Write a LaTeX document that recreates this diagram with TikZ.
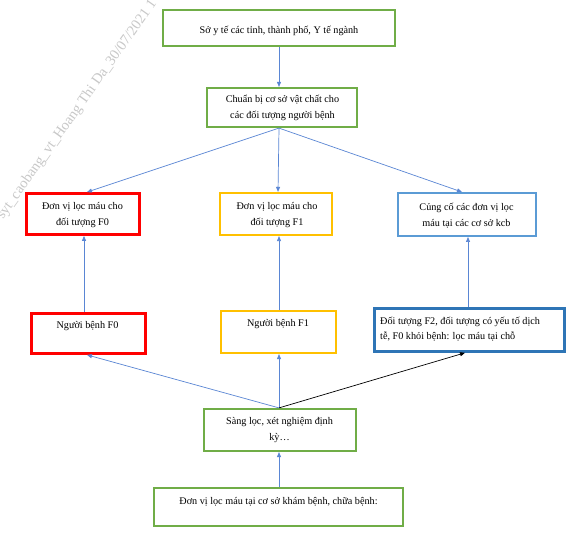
\documentclass[tikz,border=0pt]{standalone}
\usepackage{fontspec}
\setmainfont{Liberation Serif}
\usetikzlibrary{arrows.meta,calc}
\definecolor{cgreen}{HTML}{70AD47}
\definecolor{cred}{HTML}{FF0000}
\definecolor{corange}{HTML}{FFC000}
\definecolor{clblue}{HTML}{5B9BD5}
\definecolor{cdblue}{HTML}{2E75B6}
\definecolor{carrow}{HTML}{5A86D4}
\definecolor{cwm}{HTML}{C8C8C8}
\begin{document}
\begin{tikzpicture}[x=1pt,y=-1pt,
  box/.style={draw, inner sep=0pt, line width=2.2pt},
  txt/.style={inner sep=0pt, align=center, font=\fontsize{10.2}{16}\selectfont},
  arr/.style={draw=carrow, line width=0.7pt, -{Triangle[length=5pt,width=4pt]}},
  blk/.style={draw=black, line width=0.7pt, -{Triangle[length=5pt,width=4pt]}}]
\useasboundingbox (0,0) rectangle (575,545);
\fill[white] (0,0) rectangle (575,545);
% watermark
\begin{scope}
\clip (0,0) rectangle (575,545);
\node[rotate=54.6, anchor=base west, inner sep=0pt, text=cwm, font=\fontsize{14.5}{14.5}\selectfont] (wm) at (3,220) {syt\_caobang\_vt\_Hoang Thi Da\_30/07/2021 1};
\end{scope}
% boxes
\node[box, draw=cgreen, minimum width=232, minimum height=36] (top) at (279,28) {};
\node[box, draw=cgreen, minimum width=150, minimum height=39] (prep) at (282,107.5) {};
\node[box, draw=cred, line width=2.8pt, minimum width=113, minimum height=41] (u0) at (83,214) {};
\node[box, draw=corange, minimum width=112, minimum height=42] (u1) at (276,214) {};
\node[box, draw=clblue, line width=2pt, minimum width=138, minimum height=43] (kcb) at (467,214.5) {};
\node[box, draw=cred, line width=2.8pt, minimum width=114, minimum height=40] (p0) at (88.5,333.5) {};
\node[box, draw=corange, minimum width=115, minimum height=42] (p1) at (278.5,332) {};
\node[box, draw=cdblue, line width=2.6pt, minimum width=190, minimum height=43] (f2) at (469.5,330) {};
\node[box, draw=cgreen, minimum width=152, minimum height=42] (sl) at (280,430) {};
\node[box, draw=cgreen, minimum width=249, minimum height=38] (bot) at (278.5,507) {};
% texts
\node[txt] (ttop) at (279,31) {Sở y tế các tỉnh, thành phố, Y tế ngành};
\node[txt] (tprep) at (282.5,107.5) {Chuẩn bị cơ sở vật chất cho\\các đối tượng người bệnh};
\node[txt] (tu0) at (82.5,215) {Đơn vị lọc máu cho\\đối tượng F0};
\node[txt] (tu1) at (277,215) {Đơn vị lọc máu cho\\đối tượng F1};
\node[txt] (tkcb) at (466.5,215.5) {Củng cố các đơn vị lọc\\máu tại các cơ sở kcb};
\node[txt] (tp0) at (87.5,326) {Người bệnh F0};
\node[txt] (tp1) at (278,324.5) {Người bệnh F1};
\node[txt, align=left, anchor=west, font=\fontsize{10.2}{15}\selectfont] (tf2) at (380,329.5) {Đối tượng F2, đối tượng có yếu tố dịch\\tễ, F0 khỏi bệnh: lọc máu tại chỗ};
\node[txt] (tsl) at (279.5,430) {Sàng lọc, xét nghiệm định\\kỳ…};
\node[txt] (tbot) at (278.5,502) {Đơn vị lọc máu tại cơ sở khám bệnh, chữa bệnh:};
% connectors
\draw[arr] (top.south) -- ([xshift=-3pt]prep.north);
\draw[arr] ([xshift=-3pt]prep.south) -- ([xshift=4pt]u0.north);
\draw[arr] ([xshift=-3pt]prep.south) -- ([xshift=2pt]u1.north);
\draw[arr] ([xshift=-3pt]prep.south) -- ([xshift=-5pt]kcb.north);
\draw[arr] ([xshift=-4.5pt]p0.north) -- ([xshift=1pt]u0.south);
\draw[arr] ([xshift=0.5pt]p1.north) -- ([xshift=3pt]u1.south);
\draw[arr] ([xshift=-1.5pt]f2.north) -- ([xshift=1pt]kcb.south);
\draw[arr] ([xshift=-1pt]sl.north) -- ([xshift=-1.5pt]p0.south);
\draw[arr] ([xshift=-1pt]sl.north) -- ([xshift=0.5pt]p1.south);
\draw[blk] ([xshift=-1pt]sl.north) -- ([xshift=-4.5pt]f2.south);
\draw[arr] ([xshift=0.5pt]bot.north) -- ([xshift=-1pt]sl.south);
\end{tikzpicture}
\end{document}
